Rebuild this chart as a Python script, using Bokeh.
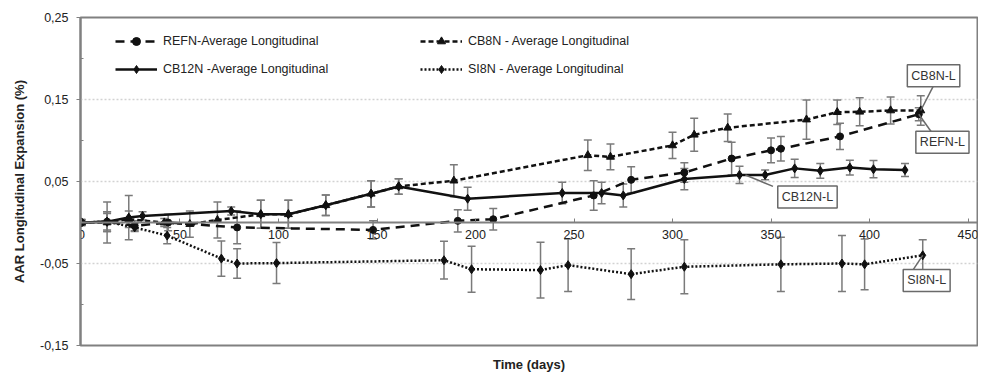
from bokeh.plotting import figure
from bokeh.models import (ColumnDataSource, Whisker, TeeHead, Legend, LegendItem, Label,
                          FixedTicker, LinearAxis, Range1d)
from bokeh.embed import file_html
from bokeh.resources import INLINE

# ---------------- data ----------------
refn_x = [0, 13, 27, 44, 79, 148, 191, 209, 260, 279, 306, 330, 350, 355, 385, 425]
refn_y = [0, 0.001, -0.004, 0.0, -0.006, -0.009, 0.002, 0.004, 0.033, 0.052, 0.061, 0.078, 0.088, 0.090, 0.105, 0.132]
refn_e = [0.004, 0.012, 0.006, 0.010, 0.020, 0.011, 0.0135, 0.013, 0.018, 0.016, 0.012, 0.020, 0.015, 0.015, 0.016, 0.008]

cb12n_x = [0, 13, 24, 31, 76, 91, 105, 124, 147, 161, 196, 244, 264, 275, 306, 334, 347, 362, 375, 390, 402, 418]
cb12n_y = [0, 0.001, 0.006, 0.008, 0.014, 0.010, 0.010, 0.021, 0.035, 0.044, 0.029, 0.036, 0.036, 0.033, 0.053, 0.058, 0.058, 0.066, 0.063, 0.067, 0.065, 0.064]
cb12n_e = [0.003, 0.012, 0.027, 0.005, 0.005, 0.017, 0.017, 0.0125, 0.016, 0.0095, 0.014, 0.013, 0.013, 0.014, 0.013, 0.0105, 0.006, 0.011, 0.009, 0.009, 0.0105, 0.008]

cb8n_x = [0, 13, 24, 42, 55, 69, 91, 105, 124, 147, 161, 189, 257, 268.5, 300, 311, 328, 368, 383.6, 395, 410.7, 426]
cb8n_y = [0, 0.0, 0.004, 0.0, -0.002, 0.003, 0.010, 0.010, 0.021, 0.035, 0.044, 0.051, 0.082, 0.080, 0.094, 0.107, 0.1155, 0.1255, 0.1345, 0.135, 0.1366, 0.1366]
cb8n_e = [0.003, 0.025, 0.010, 0.005, 0.016, 0.022, 0.017, 0.017, 0.0125, 0.016, 0.0095, 0.0195, 0.0187, 0.0156, 0.016, 0.020, 0.0167, 0.024, 0.015, 0.017, 0.0165, 0.018]

si8n_x = [0, 13, 27, 43.5, 71, 79, 99, 184, 198, 233, 247, 279, 306, 355, 386, 397.5, 427]
si8n_y = [0, 0.001, -0.006, -0.016, -0.044, -0.050, -0.0495, -0.046, -0.057, -0.058, -0.052, -0.063, -0.054, -0.051, -0.050, -0.051, -0.040]
si8n_e = [0.003, 0.010, 0.005, 0.010, 0.0215, 0.018, 0.025, 0.023, 0.028, 0.034, 0.032, 0.031, 0.033, 0.033, 0.034, 0.031, 0.019]

legend_labels = ["REFN-Average Longitudinal", "CB8N - Average Longitudinal",
                 "CB12N -Average Longitudinal", "SI8N - Average Longitudinal"]
callout_texts = ["CB8N-L", "REFN-L", "CB12N-L", "SI8N-L"]

x_ticks = [0, 50, 100, 150, 200, 250, 300, 350, 400, 450]
y_ticks = [-0.15, -0.05, 0.05, 0.15, 0.25]
y_minor = [-0.1, 0.0, 0.1, 0.2]
y_tick_labels = {-0.15: "-0,15", -0.05: "-0,05", 0.05: "0,05", 0.15: "0,15", 0.25: "0,25"}

# ---------------- figure ----------------
FONT = "Liberation Sans"
INK = "#111111"
GRAY = "#808080"

p = figure(width=978, height=376, output_backend="svg", toolbar_location=None,
           x_range=Range1d(-0.5, 454.8), y_range=Range1d(-0.15, 0.25),
           min_border_left=80, min_border_top=17, min_border_right=1, min_border_bottom=31)
p.outline_line_color = GRAY
p.outline_line_width = 2
p.background_fill_color = "white"

# x axis crossing at y = 0
xa = p.xaxis[0]
xa.fixed_location = 0
xa.ticker = FixedTicker(ticks=x_ticks)
xa.axis_line_color = GRAY
xa.axis_line_width = 2
xa.major_tick_line_color = GRAY
xa.major_tick_in = 4
xa.major_tick_out = 0
xa.minor_tick_line_color = None
xa.major_label_standoff = 7
xa.major_label_text_font = FONT
xa.major_label_text_font_size = "12.5px"
xa.major_label_text_color = "#222222"

# title axis at the bottom
ta = LinearAxis(ticker=FixedTicker(ticks=[]), axis_label="Time (days)",
                axis_line_color=None, major_tick_line_color=None, minor_tick_line_color=None,
                major_label_text_font_size="0px", axis_label_standoff=11,
                axis_label_text_font=FONT, axis_label_text_font_style="bold",
                axis_label_text_font_size="13px", axis_label_text_color="#222222")
p.add_layout(ta, "below")

ya = p.yaxis[0]
ya.ticker = FixedTicker(ticks=y_ticks, minor_ticks=y_minor)
ya.major_label_overrides = y_tick_labels
ya.axis_line_color = GRAY
ya.axis_line_width = 2
ya.major_tick_line_color = GRAY
ya.major_tick_in = 0
ya.major_tick_out = 4
ya.minor_tick_line_color = GRAY
ya.minor_tick_in = 3
ya.minor_tick_out = 0
ya.major_label_standoff = 8
ya.major_label_text_font = FONT
ya.major_label_text_font_size = "12.5px"
ya.major_label_text_color = "#222222"
ya.axis_label = "AAR Longitudinal Expansion (%)"
ya.axis_label_text_font = FONT
ya.axis_label_text_font_style = "bold"
ya.axis_label_text_font_size = "13px"
ya.axis_label_text_color = "#222222"
ya.axis_label_standoff = 10

p.xgrid.visible = False
p.ygrid.ticker = FixedTicker(ticks=[-0.05, 0.05, 0.15])
p.ygrid.grid_line_color = "#d2d2d2"
p.ygrid.grid_line_dash = "2 2"
p.ygrid.grid_line_width = 1.5


def series(xs, ys, es, dash, marker, msize):
    src = ColumnDataSource(dict(x=xs, y=ys, lo=[a - b for a, b in zip(ys, es)],
                                hi=[a + b for a, b in zip(ys, es)]))
    w = Whisker(base="x", lower="lo", upper="hi", source=src, line_color="#7a7a7a", line_width=1.5,
                upper_head=TeeHead(size=8, line_color="#7a7a7a", line_width=1.5),
                lower_head=TeeHead(size=8, line_color="#7a7a7a", line_width=1.5))
    p.add_layout(w)
    ln = p.line("x", "y", source=src, line_color=INK, line_width=2.5, line_dash=dash)
    sc = p.scatter("x", "y", source=src, marker=marker, size=msize, fill_color=INK, line_color=INK)
    return [ln, sc]


r_refn = series(refn_x, refn_y, refn_e, "9 6", "circle", 7)
r_cb8n = series(cb8n_x, cb8n_y, cb8n_e, "5 3", "triangle", 8)
r_cb12n = series(cb12n_x, cb12n_y, cb12n_e, "solid", "diamond", 9)
r_si8n = series(si8n_x, si8n_y, si8n_e, "2 2", "diamond", 9)


def make_legend(items, loc):
    lg = Legend(items=items, location=loc, orientation="vertical", padding=0, margin=0,
                spacing=8, glyph_width=42, glyph_height=20, label_height=20, label_standoff=6,
                border_line_alpha=0, background_fill_alpha=0,
                label_text_font=FONT, label_text_font_size="12.5px", label_text_color="#222222")
    p.add_layout(lg, "center")


make_legend([LegendItem(label=legend_labels[0], renderers=r_refn),
             LegendItem(label=legend_labels[2], renderers=r_cb12n)], (35, 266))
make_legend([LegendItem(label=legend_labels[1], renderers=r_cb8n),
             LegendItem(label=legend_labels[3], renderers=r_si8n)], (340, 266))

# callouts: (text, box centre x, box centre y, leader from (x,y) to (x,y))
callouts = [
    (callout_texts[0], 432.5, 0.179, cb8n_x[-1], cb8n_y[-1], 432.5, 0.167),
    (callout_texts[1], 437.0, 0.098, refn_x[-1], refn_y[-1], 431.5, 0.110),
    (callout_texts[2], 368.5, 0.031, cb12n_x[15] + 3, cb12n_y[15], 351.0, 0.044),
    (callout_texts[3], 429.0, -0.0707, si8n_x[-1], si8n_y[-1], 422.0, -0.058),
]
for txt, bx, by, x0, y0, x1, y1 in callouts:
    p.segment(x0=[x0], y0=[y0], x1=[x1], y1=[y1], line_color="#6a6a6a", line_width=1.5)
    p.add_layout(Label(x=bx, y=by, text=txt, text_align="center", text_baseline="middle",
                       text_font=FONT, text_font_size="12.5px", text_color="#333333",
                       background_fill_color="white", border_line_color="#6a6a6a",
                       border_line_width=1.5, padding=4))

open("out.html", "w").write(file_html(p, INLINE))
